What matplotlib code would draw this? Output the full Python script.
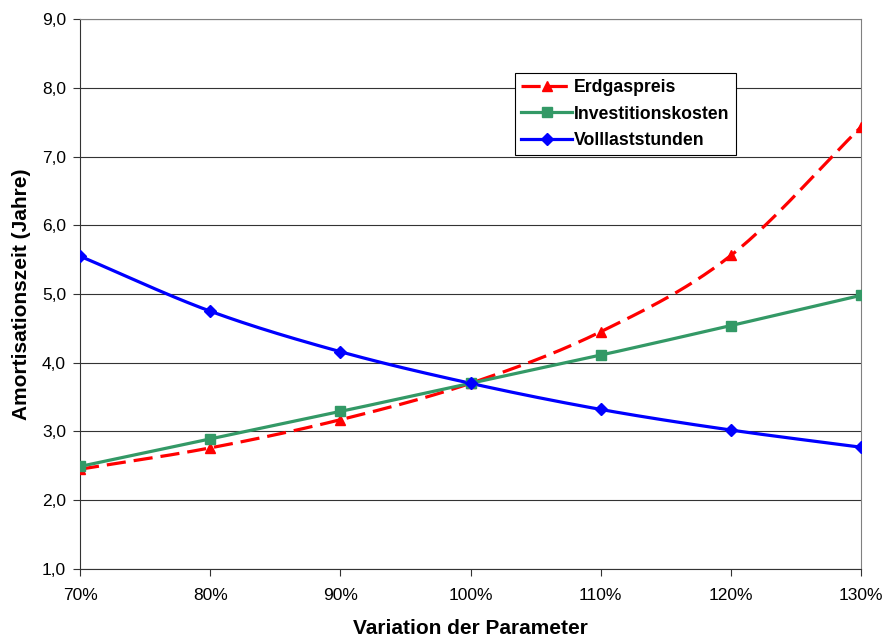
import matplotlib
matplotlib.use("Agg")
import matplotlib.pyplot as plt
import numpy as np

plt.rcParams['font.family'] = ['Liberation Sans', 'DejaVu Sans']

# Daten
variation = [70, 80, 90, 100, 110, 120, 130]
erdgaspreis = [2.45, 2.76, 3.17, 3.70, 4.45, 5.56, 7.43]
investitionskosten = [2.49, 2.89, 3.29, 3.70, 4.11, 4.54, 4.98]
volllaststunden = [5.55, 4.75, 4.16, 3.70, 3.32, 3.02, 2.77]
y_ticks = [1, 2, 3, 4, 5, 6, 7, 8, 9]
x_ticks = [70, 80, 90, 100, 110, 120, 130]


def smooth(x, y, n=30):
    # Catmull-Rom Glättung wie bei Excel "geglättete Linie"
    x = np.asarray(x, float)
    y = np.asarray(y, float)
    px = np.concatenate([[2 * x[0] - x[1]], x, [2 * x[-1] - x[-2]]])
    py = np.concatenate([[2 * y[0] - y[1]], y, [2 * y[-1] - y[-2]]])
    xs, ys = [], []
    t = np.linspace(0, 1, n)
    for i in range(1, len(px) - 2):
        for p, out in ((px, xs), (py, ys)):
            p0, p1, p2, p3 = p[i - 1], p[i], p[i + 1], p[i + 2]
            out.extend(0.5 * ((2 * p1) + (-p0 + p2) * t + (2 * p0 - 5 * p1 + 4 * p2 - p3) * t ** 2
                              + (-p0 + 3 * p1 - 3 * p2 + p3) * t ** 3))
    return np.array(xs), np.array(ys)


fig = plt.figure(figsize=(8.84, 6.37), dpi=100)
ax = fig.add_axes([0.0905, 0.107, 0.8835, 0.863])

series = [
    ("Erdgaspreis", erdgaspreis, "#ff0000", "^", (0, (6, 2.5))),
    ("Investitionskosten", investitionskosten, "#339966", "s", "-"),
    ("Volllaststunden", volllaststunden, "#0000ff", "D", "-"),
]
handles = []
for name, vals, col, mk, ls in series:
    ms = 7.5 if mk != "D" else 6
    sx, sy = smooth(variation, vals)
    ax.plot(sx, sy, color=col, lw=2.3, ls=ls, zorder=3)
    ax.plot(variation, vals, ls="none", marker=mk, color=col, markersize=ms, zorder=4)
    h, = ax.plot([], [], color=col, lw=2.3, ls=ls, marker=mk, markersize=ms)
    handles.append(h)

ax.set_xlim(70, 130)
ax.set_ylim(1, 9)
ax.set_xticks(x_ticks)
ax.set_xticklabels([f"{v}%" for v in x_ticks])
ax.set_yticks(y_ticks)
ax.set_yticklabels([f"{v:.1f}".replace(".", ",") for v in y_ticks])
ax.grid(axis="y", color="#333333", lw=0.8)
ax.set_axisbelow(True)

for s in ("top", "right"):
    ax.spines[s].set_color("#808080")
ax.spines["left"].set_color("#333333")
ax.spines["bottom"].set_color("#333333")
ax.tick_params(axis="both", direction="out", length=5, labelsize=12.5, colors="#333333",
               labelcolor="black")
ax.tick_params(axis="x", pad=9)
ax.tick_params(axis="y", pad=5)

ax.set_xlabel("Variation der Parameter", fontsize=15, fontweight="bold", labelpad=11)
ax.set_ylabel("Amortisationszeit (Jahre)", fontsize=15, fontweight="bold", labelpad=8)

leg = ax.legend(handles, [s[0] for s in series], loc="upper left",
                bbox_to_anchor=(0.557, 0.902), fancybox=False, framealpha=1,
                edgecolor="black", prop={"weight": "bold", "size": 12.7},
                handlelength=2.9, handletextpad=0.1, borderpad=0.35, labelspacing=0.53,
                borderaxespad=0)
leg.get_frame().set_linewidth(0.8)

fig.savefig("out.png", dpi=100)
